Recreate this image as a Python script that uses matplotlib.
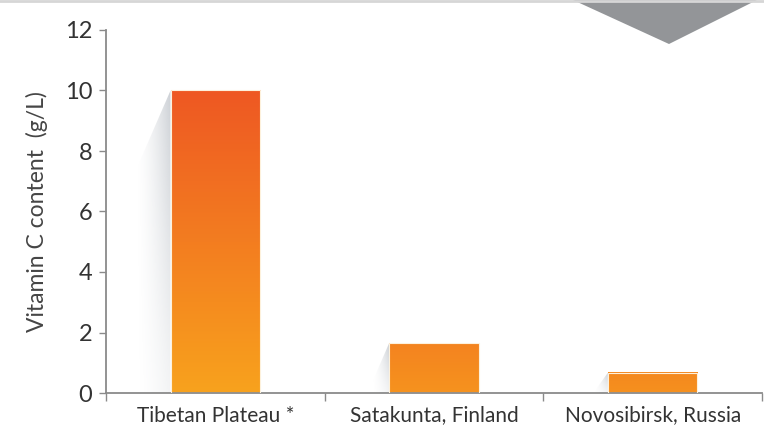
import matplotlib
matplotlib.use('Agg')
import matplotlib.pyplot as plt
import numpy as np
from matplotlib.colors import LinearSegmentedColormap, to_rgb
from matplotlib.patches import Polygon

# data
regions = ['Tibetan Plateau *', 'Satakunta, Finland', 'Novosibirsk, Russia']
vitamin_c = [10.0, 1.65, 0.67]
y_ticks = [0, 2, 4, 6, 8, 10, 12]

plt.rcParams['font.family'] = ['Lato', 'DejaVu Sans']

fig = plt.figure(figsize=(7.64, 4.36), dpi=100)
ax = fig.add_axes([106/764, 1-393/436, 656/764, 363/436])

x = np.arange(len(regions))
bw = 0.41
px_per_unit = 363/12.0
px_per_x = 656/3.0

bottom_c = np.array(to_rgb('#F8A21D'))
top_c = np.array(to_rgb('#EE5823'))

for xi, h in zip(x, vitamin_c):
    xl = xi - bw/2
    # soft shadow on the left side
    s = 0.06 + 0.10*min(1.0, h/10.0)
    d = min(h, s*px_per_x*2.3/px_per_unit)
    poly = Polygon([(xl, h), (xl - s, h - d), (xl - s, 0), (xl, 0)],
                   closed=True, facecolor='none', edgecolor='none')
    ax.add_patch(poly)
    nx, ny = 60, 120
    gx = np.linspace(0, 1, nx)[None, :]
    gy = np.linspace(0, 1, ny)[:, None]
    alpha = 0.45*gx**1.5*(0.25 + 0.75*gy**1.2)
    shade = np.zeros((ny, nx, 4))
    shade[..., :3] = to_rgb('#8E97A2')
    shade[..., 3] = alpha
    im = ax.imshow(shade, extent=[xl - s, xl, 0, h], origin='lower',
                   aspect='auto', zorder=1, interpolation='bilinear')
    im.set_clip_path(poly)

    # gradient bar
    f = min(1.0, h/10.0)
    tc = bottom_c + (top_c - bottom_c)*(0.3 + 0.7*f)
    bc = bottom_c + (top_c - bottom_c)*(0.25*(1 - f))
    cmap = LinearSegmentedColormap.from_list('bar', [bc, tc])
    grad = np.linspace(0, 1, 200)[:, None]*np.ones((1, 2))
    ax.imshow(grad, extent=[xl, xl + bw, 0, h], origin='lower', cmap=cmap,
              aspect='auto', zorder=2, interpolation='bilinear')
    ax.bar(xi, h, bw, color='none', edgecolor='#FDF1DC', linewidth=0.8, zorder=3)

ax.set_xlim(-0.5, 2.5)
ax.set_ylim(0, 12)
ax.set_yticks(y_ticks)
ax.set_yticklabels([str(v) for v in y_ticks])
ax.set_xticks([-0.5, 0.5, 1.5, 2.5])
ax.set_xticklabels([])
ax.set_xticks(x, minor=True)
ax.set_xticklabels(regions, minor=True)

for sp in ['top', 'right']:
    ax.spines[sp].set_visible(False)
for sp in ['left', 'bottom']:
    ax.spines[sp].set_color('#8A8A8A')
    ax.spines[sp].set_linewidth(1.3)

ax.tick_params(axis='y', length=5, width=1.0, color='#8A8A8A', labelsize=17,
               labelcolor='#333333', pad=5)
ax.tick_params(axis='x', which='major', length=6, width=1.0, color='#8A8A8A')
ax.tick_params(axis='x', which='minor', length=0, labelsize=15,
               labelcolor='#333333', pad=9)
ax.set_ylabel('Vitamin C content  (g/L)', fontsize=16.5, color='#454545', labelpad=12)
ax.patch.set_alpha(0)

# decoration: top rule and grey chevron
fig.add_artist(plt.Line2D([0, 1], [1 - 1/436, 1 - 1/436], color='#D6D6D6',
                          linewidth=2, transform=fig.transFigure))
fig.add_artist(Polygon([(573/764, 1), (757/764, 1), (669/764, 1 - 44/436)],
                       closed=True, facecolor='#939598', edgecolor='none',
                       transform=fig.transFigure))

fig.savefig('out.png', dpi=100)
